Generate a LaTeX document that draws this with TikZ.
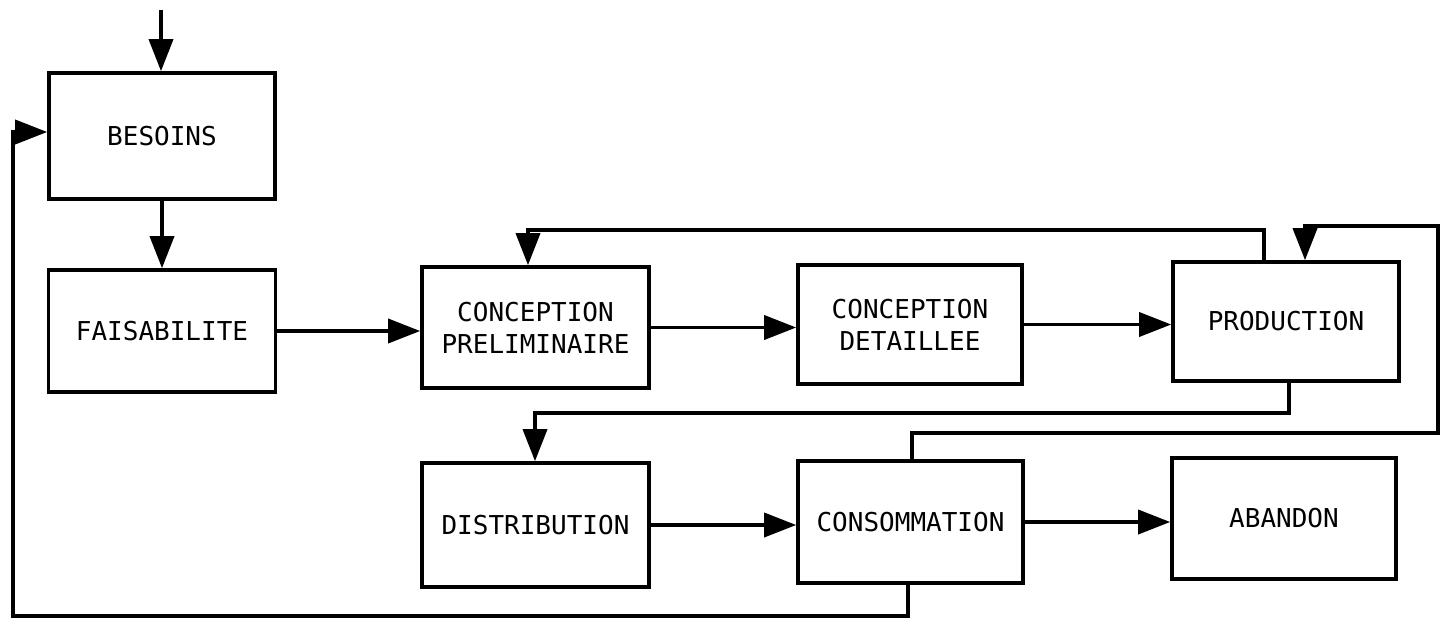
\documentclass[tikz,border=0pt]{standalone}
\usepackage{fontspec}
\setmonofont{DejaVu Sans Mono}
\usetikzlibrary{arrows.meta}
\tikzset{
  stagebox/.style={draw, line width=3.6pt, align=center, inner sep=0pt,
    font=\ttfamily\fontsize{26}{32}\selectfont},
  flow/.style={line width=3.6pt, -{Triangle[length=32pt,width=24pt]}}
}
\begin{document}
\begin{tikzpicture}[x=1pt,y=-1pt]
\useasboundingbox (0,0) rectangle (1447,621);
% boxes
\node[stagebox, minimum width=226pt, minimum height=126pt] (bes)  at (162,136)   {BESOINS};
\node[stagebox, minimum width=227pt, minimum height=122pt] (fai)  at (162,331) {FAISABILITE};
\node[stagebox, minimum width=227pt, minimum height=121pt] (cp)   at (535.5,327.5) {CONCEPTION\\PRELIMINAIRE};
\node[stagebox, minimum width=224pt, minimum height=119pt] (cd)   at (910,324.5) {CONCEPTION\\DETAILLEE};
\node[stagebox, minimum width=226pt, minimum height=119pt] (prod) at (1286,321.5) {PRODUCTION};
\node[stagebox, minimum width=227pt, minimum height=124pt] (dist) at (535.5,525) {DISTRIBUTION};
\node[stagebox, minimum width=225pt, minimum height=122pt] (cons) at (910.5,522) {CONSOMMATION};
\node[stagebox, minimum width=224pt, minimum height=121pt] (aban) at (1284,518.5) {ABANDON};
% free end of the entry arrow
\coordinate (entry) at (161,10);
% main flow
\draw[flow] (entry) -- (entry |- bes.north);
\draw[flow] (bes.south) -- (bes.south |- fai.north);
\draw[flow] (fai.east) -- (fai.east -| cp.west);
\draw[flow] (cp.east) -- (cp.east -| cd.west);
\draw[flow] (cd.east) -- (cd.east -| prod.west);
\draw[flow] (dist.east) -- (dist.east -| cons.west);
\draw[flow] (cons.east) -- (cons.east -| aban.west);
% production -> distribution
\draw[flow] (prod.south -| 1289,0) |- (535,413) -- (535,413 |- dist.north);
% production -> conception preliminaire (feedback)
\draw[flow] (prod.north -| 1264,0) |- (528,230) -- (528,230 |- cp.north);
% consommation -> production (feedback)
\draw[flow] (cons.north -| 912,0) |- (1438,433) |- (1305,226) -- (1305,226 |- prod.north);
% consommation -> besoins (feedback)
\draw[flow] (cons.south -| 908,0) |- (13,616) |- (13,132 -| bes.west);
\end{tikzpicture}
\end{document}
